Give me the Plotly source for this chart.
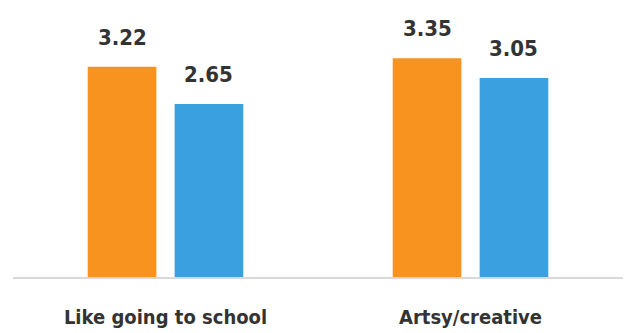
import plotly.graph_objects as go

# Survey averages by trait
categories = ["Like going to school", "Artsy/creative"]
series_a = [3.22, 3.35]
series_b = [2.65, 3.05]
series_names = ["Group A", "Group B"]

ORANGE = "#F7931E"
BLUE = "#3AA0E0"
TEXT = "#333333"
FONT = "DejaVu Sans Condensed, Liberation Sans Narrow, Arial Narrow, sans-serif"

BARGAP = 0.43
BARGROUPGAP = 0.21

fig = go.Figure()
fig.add_trace(go.Bar(x=categories, y=series_a, name=series_names[0],
                     marker=dict(color=ORANGE, line=dict(width=0))))
fig.add_trace(go.Bar(x=categories, y=series_b, name=series_names[1],
                     marker=dict(color=BLUE, line=dict(width=0))))

# value labels above each bar, offset to the bar's slot within its group
slot = (1 - BARGAP) / 2
for i, cat in enumerate(categories):
    for vals, sign in ((series_a, -1), (series_b, 1)):
        fig.add_annotation(
            x=i + sign * slot / 2, y=vals[i], xref="x", yref="y",
            text=f"<b>{vals[i]:.2f}</b>", showarrow=False,
            yanchor="bottom", yshift=15,
            font=dict(family=FONT, size=22, color=TEXT),
        )

fig.update_layout(
    width=626, height=333,
    margin=dict(l=13, r=3, t=10, b=56),
    barmode="group", bargap=BARGAP, bargroupgap=BARGROUPGAP,
    plot_bgcolor="white", paper_bgcolor="white",
    showlegend=False,
    xaxis=dict(
        showline=True, linecolor="#d9d9d9", linewidth=2,
        showgrid=False, ticks="", ticklabelstandoff=21,
        tickfont=dict(family=FONT, size=20, color=TEXT),
        tickvals=list(range(len(categories))),
        ticktext=[f"<b>{c}</b>" for c in categories],
    ),
    yaxis=dict(range=[0, 4.09], visible=False, showgrid=False, zeroline=False),
)

fig.write_html("out.html")
